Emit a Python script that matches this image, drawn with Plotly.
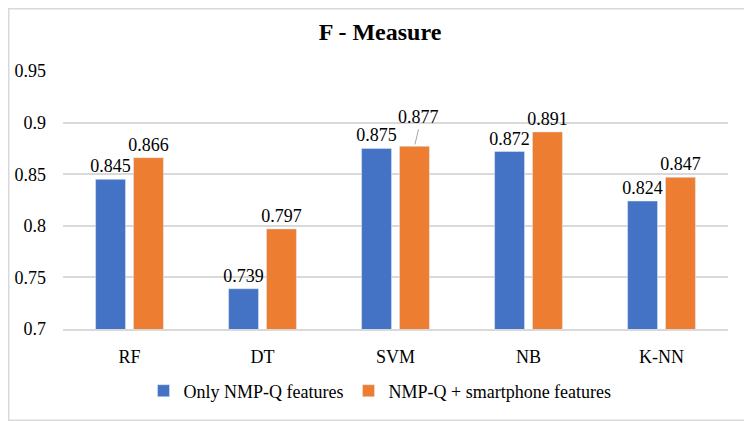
import plotly.graph_objects as go

categories = ["RF", "DT", "SVM", "NB", "K-NN"]
only_nmpq = [0.845, 0.739, 0.875, 0.872, 0.824]
nmpq_smartphone = [0.866, 0.797, 0.877, 0.891, 0.847]
series_names = ["Only NMP-Q features", "NMP-Q + smartphone features"]
tick_vals = [0.7, 0.75, 0.8, 0.85, 0.9, 0.95]
tick_text = ["0.7", "0.75", "0.8", "0.85", "0.9", "0.95"]

FONT = "Liberation Serif"
BLUE = "#4472C4"
ORANGE = "#ED7D31"
FS = 18

# page body has an 8px margin; figure sized to fill the remaining window
W, H = 744, 413
ml, mr, mt, mb = 55, 24, 63, 92
pw, ph = W - ml - mr, H - mt - mb

fig = go.Figure()
fig.add_trace(go.Bar(
    x=categories, y=only_nmpq, name=series_names[0], marker_color=BLUE,
    text=[f"{v:.3f}" for v in only_nmpq], textposition="outside",
    constraintext="none",
    textfont=dict(family=FONT, size=FS, color="#000000"), cliponaxis=False,
))
# the SVM label of the second series is drawn as an annotation with leader line
texts2 = [f"{v:.3f}" for v in nmpq_smartphone]
texts2[2] = ""
fig.add_trace(go.Bar(
    x=categories, y=nmpq_smartphone, name=series_names[1], marker_color=ORANGE,
    text=texts2, textposition="outside", constraintext="none",
    textfont=dict(family=FONT, size=FS, color="#000000"), cliponaxis=False,
))

fig.add_annotation(
    x=categories[2], y=nmpq_smartphone[2], xref="x", yref="y",
    text=f"{nmpq_smartphone[2]:.3f}", showarrow=True, arrowhead=0,
    arrowcolor="#A6A6A6", arrowwidth=1, ax=4, ay=-17, xshift=19, standoff=2,
    yanchor="bottom", font=dict(family=FONT, size=FS, color="#000000"),
)

# chart border
fig.add_shape(
    type="rect", xref="paper", yref="paper",
    x0=(0.75 - ml) / pw, x1=(W - 0.75 - ml) / pw,
    y0=-(H - 0.75 - (H - mb)) / ph, y1=1 + (mt - 0.75) / ph,
    line=dict(color="#D9D9D9", width=1.5), fillcolor="rgba(0,0,0,0)",
    layer="below",
)

fig.update_layout(
    width=W, height=H,
    margin=dict(l=ml, r=mr, t=mt, b=mb, autoexpand=False),
    paper_bgcolor="white", plot_bgcolor="white",
    barmode="group", bargap=0.43, bargroupgap=0.21,
    title=dict(text="<b>F - Measure</b>", x=0.5, xanchor="center", y=1 - 24 / H,
               yanchor="middle", font=dict(family=FONT, size=24, color="#000000")),
    font=dict(family=FONT, size=FS, color="#000000"),
    legend=dict(orientation="h", x=(372 - ml) / pw, xanchor="center",
                y=-(383 - (H - mb)) / ph,
                yanchor="middle", font=dict(family=FONT, size=FS, color="#000000"),
                itemwidth=30, traceorder="normal"),
    yaxis=dict(range=[0.7, 0.95], tickvals=tick_vals, ticktext=tick_text,
               showgrid=True, gridcolor="#D9D9D9", gridwidth=1.5,
               zeroline=False, showline=False, ticks="", ticklabelstandoff=16,
               tickfont=dict(family=FONT, size=FS, color="#000000")),
    xaxis=dict(showline=True, linecolor="#D9D9D9", linewidth=1.5, ticks="",
               ticklabelstandoff=11,
               tickfont=dict(family=FONT, size=FS, color="#000000")),
)

fig.write_html("out.html")
